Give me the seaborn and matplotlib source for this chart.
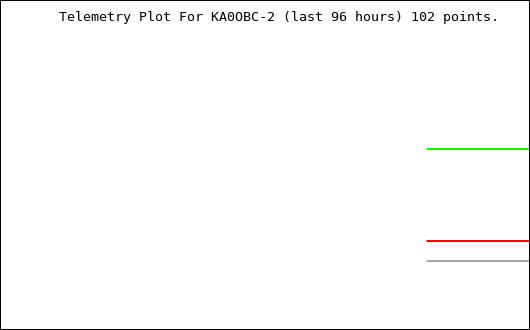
import matplotlib
matplotlib.use("Agg")
import matplotlib.pyplot as plt
import seaborn as sns
import pandas as pd

# Data (hours within the last 96 hours, telemetry values)
hours = [77.4, 96.0]
series_names = ["Channel A", "Channel B", "Channel C"]
values_a = [54.85, 54.85]
values_b = [26.97, 26.97]
values_c = [20.91, 20.91]
colors = ["#00ff00", "#ff0000", "#a9a9a9"]
title = "Telemetry Plot For KA0OBC-2 (last 96 hours) 102 points."

rows = []
for name, vals in zip(series_names, [values_a, values_b, values_c]):
    for h, v in zip(hours, vals):
        rows.append({"hour": h, "value": v, "series": name})
df = pd.DataFrame(rows)

sns.set_style("white")
fig = plt.figure(figsize=(5.3, 3.3), dpi=100)
ax = fig.add_axes([0, 0, 1, 1])
sns.lineplot(data=df, x="hour", y="value", hue="series",
             palette=dict(zip(series_names, colors)), linewidth=1.44,
             legend=False, ax=ax)
ax.set_xlim(0, 96 * 530 / 529)
ax.set_ylim(0, 100)
ax.set_xticks([])
ax.set_yticks([])
ax.set_xlabel("")
ax.set_ylabel("")
for s in ax.spines.values():
    s.set_visible(False)
for ln in ax.lines:
    ln.set_solid_capstyle("butt")
    ln.set_snap(False)

# outer black border
fig.patches.append(plt.Rectangle((0, 0), 1, 1,
                                 transform=fig.transFigure, fill=False,
                                 edgecolor="black", linewidth=1.44))

fig.text(279 / 530, 1 - 17.5 / 330, title, ha="center", va="center",
         family="DejaVu Sans Mono", fontsize=9.6, color="black")

fig.savefig("out.png", dpi=100, facecolor="white")
